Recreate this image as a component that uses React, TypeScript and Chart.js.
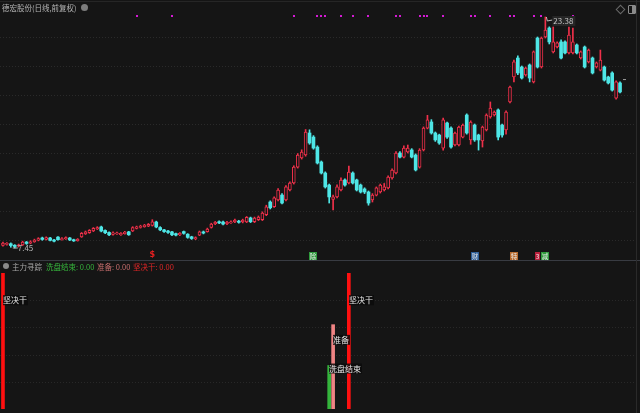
import React, { useEffect, useRef } from 'react';
import { Chart, registerables } from 'chart.js';
Chart.register(...registerables);

const BG = '#151515';
const RED = '#f0304a';
const CYAN = '#4ee6e6';
const FONT = '"Noto Sans CJK SC", "Noto Sans", sans-serif';

// ---- Data (daily candles, 前复权) ----
const openP = [7.62,7.70,7.74,7.64,7.58,7.66,7.86,7.78,7.88,7.98,8.14,8.04,8.14,8.00,8.20,8.02,8.08,8.14,8.02,7.96,
8.22,8.42,8.50,8.62,8.76,8.90,8.66,8.52,8.38,8.42,8.36,8.44,8.56,8.62,8.80,8.86,8.92,8.96,9.00,9.24,
8.86,8.70,8.62,8.56,8.44,8.36,8.58,8.40,8.22,8.08,8.34,8.56,8.58,8.86,9.12,9.26,9.24,9.12,9.18,9.24,
9.30,9.24,9.24,9.52,9.26,9.40,9.40,9.74,10.62,10.30,10.76,11.10,10.76,11.45,11.93,13.03,13.66,13.86,15.38,15.10,
14.41,13.38,12.62,11.79,10.80,10.97,11.45,12.14,11.93,12.62,12.14,11.79,11.52,11.31,10.76,11.10,11.31,11.45,11.59,12.28,
12.62,14.00,13.72,14.07,14.21,13.86,13.03,14.21,15.72,16.14,15.38,15.24,14.34,16.07,15.72,14.55,14.55,15.10,16.62,14.90,
15.93,15.24,14.83,15.59,16.48,16.62,16.97,15.93,15.59,17.52,19.24,20.55,19.93,19.38,20.07,18.90,21.93,19.93,22.00,22.62,
20.97,21.31,21.66,21.66,20.90,20.90,21.45,20.55,21.31,20.28,20.55,19.93,19.72,19.93,19.24,19.52,17.79,18.83];
const closeP = [7.78,7.76,7.62,7.55,7.66,7.86,7.76,7.88,8.00,8.10,8.04,8.16,7.98,7.92,8.02,8.10,8.16,8.00,7.94,8.04,
8.46,8.56,8.66,8.80,8.86,8.62,8.50,8.36,8.50,8.48,8.46,8.54,8.36,8.86,8.90,8.96,9.02,9.08,9.26,8.90,
8.70,8.58,8.52,8.36,8.34,8.46,8.46,8.18,8.10,8.16,8.56,8.48,8.76,9.10,9.22,9.18,9.10,9.22,9.26,9.38,
9.22,9.38,9.56,9.26,9.52,9.58,9.86,10.28,10.22,10.90,11.45,10.55,11.66,11.93,13.03,13.86,14.07,15.45,14.69,14.34,
13.31,12.62,11.66,10.97,10.97,11.66,12.14,11.79,12.69,11.93,11.45,11.31,11.31,10.55,11.10,11.59,11.79,11.66,12.34,12.83,
14.00,13.72,14.34,14.34,13.72,12.83,14.21,15.72,16.28,15.38,14.90,14.69,16.28,15.10,14.41,15.38,15.79,15.93,15.38,16.14,
14.90,14.90,15.79,16.62,17.10,16.83,15.10,15.24,16.83,18.55,20.28,19.52,19.17,19.86,19.17,20.97,19.93,21.93,22.48,21.66,
21.66,21.59,20.55,20.90,22.14,21.66,20.90,20.97,19.93,21.10,19.52,20.21,20.41,19.03,18.83,18.34,18.90,18.21];
const highP = [7.85,7.82,7.80,7.68,7.72,7.92,7.90,7.95,8.06,8.16,8.20,8.22,8.18,8.04,8.24,8.16,8.22,8.18,8.06,8.10,
8.52,8.62,8.72,8.86,8.92,8.96,8.70,8.56,8.56,8.54,8.52,8.60,8.60,8.92,8.96,9.02,9.08,9.14,9.40,9.30,
8.92,8.74,8.66,8.60,8.48,8.52,8.62,8.44,8.26,8.22,8.62,8.62,8.82,9.16,9.28,9.32,9.30,9.28,9.32,9.44,
9.36,9.44,9.62,9.58,9.58,9.66,9.94,10.40,10.70,10.98,11.55,11.20,11.76,12.02,13.12,13.96,14.22,15.62,15.60,15.20,
14.50,13.45,12.70,11.86,11.10,11.80,12.28,12.22,13.10,12.70,12.20,11.86,11.60,11.38,11.20,11.66,11.86,11.90,12.42,12.90,
14.10,14.10,14.50,14.55,14.30,13.94,14.30,15.80,16.60,16.30,15.45,15.30,16.40,16.14,15.80,15.45,15.86,16.00,16.70,16.22,
16.00,15.30,15.86,16.70,17.52,16.90,17.04,16.00,16.90,18.62,20.40,20.70,20.00,19.93,20.14,21.04,22.00,22.00,23.38,22.70,
22.69,21.66,21.80,21.73,22.69,22.62,21.52,21.04,21.38,21.17,20.62,20.28,21.10,20.00,19.30,19.60,18.97,18.90];
const lowP = [7.58,7.65,7.50,7.45,7.52,7.62,7.70,7.74,7.84,7.94,7.98,8.00,7.94,7.86,7.98,7.98,8.04,7.96,7.90,7.92,
8.18,8.38,8.46,8.58,8.72,8.56,8.44,8.30,8.34,8.38,8.32,8.40,8.32,8.58,8.76,8.82,8.88,8.92,8.96,8.84,
8.64,8.52,8.46,8.30,8.28,8.30,8.40,8.12,8.04,8.02,8.30,8.42,8.54,8.82,9.06,9.12,9.04,9.06,9.14,9.20,
9.16,9.18,9.20,9.20,9.20,9.34,9.34,9.68,10.14,10.24,10.70,10.48,10.70,11.38,11.86,12.96,13.58,13.78,14.60,14.26,
13.24,12.55,11.58,10.55,10.07,10.90,11.38,11.72,11.86,11.86,11.38,11.24,11.20,10.40,10.62,11.04,11.24,11.38,11.52,12.20,
12.55,13.66,13.66,14.00,13.66,12.76,12.96,14.14,15.66,15.30,14.80,14.60,14.20,15.00,14.34,14.48,14.48,15.04,15.30,14.60,
14.80,14.20,14.41,15.52,16.40,16.55,14.90,15.10,15.30,17.45,18.90,19.40,19.10,19.30,18.90,18.83,19.86,19.86,21.93,21.52,
20.90,21.24,20.48,20.83,20.83,20.83,20.83,20.48,19.86,20.21,19.45,19.86,19.66,18.96,18.76,18.27,17.72,18.14];
const categories = openP.map((_, i) => `D${i + 1}`);
const gridPrices = [8, 10, 12, 14, 16, 18, 20, 22];
const yMin = 6.759;
const yMax = 23.724;

// top signal dots (day indices)
const dotIdx = [34, 43, 74, 80, 81, 82, 86, 89, 93, 100, 101, 106, 107, 108, 112, 119, 120, 124, 129, 130, 135, 137, 145];
// info-mine markers
const markerIdx = [79, 120, 130, 136, 138];
const markerText = ['除', '财', '特', '3', '减'];
const markerColor = ['#2f9a3c', '#2c5d96', '#b86a2c', '#b8203c', '#2f9a3c'];
const dollarIdx = [38];

// indicator 主力寻踪
const washEndIdx = [83];
const washEndVal = [32];
const prepareIdx = [84];
const prepareVal = [62];
const goIdx = [0, 88];
const goVal = [100, 100];
const indGrid = [20, 40, 60, 80];

const N = openP.length;
const spread = (idx: number[], vals: number[]) => {
  const a: (number | null)[] = new Array(N).fill(null);
  idx.forEach((k, j) => { a[k] = vals[j]; });
  return a;
};

const mainDecor = {
  id: 'mainDecor',
  beforeDatasetsDraw(chart: any) {
    const { ctx, scales: { y } } = chart;
    ctx.save();
    ctx.strokeStyle = '#2a2a2a';
    ctx.lineWidth = 1;
    ctx.setLineDash([1, 2]);
    gridPrices.forEach((p) => {
      const yy = Math.round(y.getPixelForValue(p)) + 0.5;
      ctx.beginPath(); ctx.moveTo(0, yy); ctx.lineTo(636, yy); ctx.stroke();
    });
    ctx.restore();
  },
  afterDatasetsDraw(chart: any) {
    const { ctx, chartArea, scales: { x, y } } = chart;
    ctx.save();
    // magenta dots
    ctx.fillStyle = '#d41ad4';
    dotIdx.forEach((i) => {
      const xx = Math.round(x.getPixelForValue(i));
      ctx.fillRect(xx - 1, chartArea.top + 3, 2, 2);
    });
    // high label
    let hi = 0, lo = 0;
    highP.forEach((v, i) => { if (v > highP[hi]) hi = i; });
    lowP.forEach((v, i) => { if (v < lowP[lo]) lo = i; });
    ctx.font = `8px ${FONT}`;
    ctx.textBaseline = 'middle';
    const hx = x.getPixelForValue(hi), hy = y.getPixelForValue(highP[hi]);
    ctx.strokeStyle = '#bdbdbd'; ctx.lineWidth = 1;
    ctx.beginPath(); ctx.moveTo(hx + 1, hy); ctx.lineTo(hx + 2, hy + 4); ctx.lineTo(hx + 7, hy + 3); ctx.stroke();
    const ht = highP[hi].toFixed(2);
    const hw = ctx.measureText(ht).width;
    ctx.fillStyle = '#262626';
    ctx.fillRect(hx + 7, hy - 1, hw + 3, 10);
    ctx.fillStyle = '#c4c4c4';
    ctx.fillText(ht, hx + 8, hy + 4);
    // low label
    const lx = x.getPixelForValue(lo), ly = y.getPixelForValue(lowP[lo]);
    ctx.beginPath(); ctx.moveTo(lx - 2, ly); ctx.lineTo(lx + 3, ly); ctx.stroke();
    ctx.fillStyle = '#b8b8b8';
    ctx.fillText(lowP[lo].toFixed(2), lx + 3, ly);
    // markers
    ctx.textAlign = 'center';
    markerIdx.forEach((i, j) => {
      const mx = x.getPixelForValue(i);
      const w = /\d/.test(markerText[j]) ? 5 : 8;
      const bx = Math.round(mx - w / 2), by = chartArea.bottom - 6;
      ctx.fillStyle = markerColor[j];
      ctx.fillRect(bx, by, w, 8);
      ctx.fillStyle = '#eaeaea';
      ctx.font = `6.5px ${FONT}`;
      ctx.fillText(markerText[j], bx + w / 2, by + 4.5);
    });
    // $ sign
    ctx.fillStyle = '#e82020';
    ctx.font = `bold 8px "DejaVu Sans", sans-serif`;
    dollarIdx.forEach((i) => {
      ctx.fillText('$', x.getPixelForValue(i), chartArea.bottom - 3);
    });
    // last price tick
    ctx.fillStyle = '#9a9a9a';
    ctx.fillRect(chartArea.right + 1, y.getPixelForValue(19.1), 3, 1);
    ctx.restore();
  },
};

const indDecor = {
  id: 'indDecor',
  beforeDatasetsDraw(chart: any) {
    const { ctx, scales: { y } } = chart;
    ctx.save();
    ctx.strokeStyle = '#282828';
    ctx.lineWidth = 1;
    ctx.setLineDash([1, 2]);
    indGrid.forEach((v) => {
      const yy = Math.round(y.getPixelForValue(v)) + 0.5;
      ctx.beginPath(); ctx.moveTo(0, yy); ctx.lineTo(636, yy); ctx.stroke();
    });
    ctx.restore();
  },
  afterDatasetsDraw(chart: any) {
    const { ctx, scales: { x, y } } = chart;
    ctx.save();
    ctx.font = `8px ${FONT}`;
    ctx.textBaseline = 'middle';
    const put = (txt: string, i: number, v: number) => {
      const tx = Math.round(x.getPixelForValue(i));
      const ty = y.getPixelForValue(v);
      const w = ctx.measureText(txt).width;
      ctx.fillStyle = 'rgba(10,10,10,0.85)';
      ctx.fillRect(tx, ty - 5, w + 1, 10);
      ctx.fillStyle = '#e6e6e6';
      ctx.fillText(txt, tx, ty);
    };
    goIdx.forEach((i, j) => put('坚决干', i, goVal[j] * 0.8));
    prepareIdx.forEach((i, j) => put('准备', i, prepareVal[j] * 0.82));
    washEndIdx.forEach((i, j) => put('洗盘结束', i, washEndVal[j] * 0.93));
    ctx.restore();
  },
};

export default function App() {
  const mainRef = useRef<HTMLCanvasElement>(null);
  const indRef = useRef<HTMLCanvasElement>(null);

  useEffect(() => {
    const up = openP.map((o, i) => closeP[i] >= o);
    const main = new Chart(mainRef.current as HTMLCanvasElement, {
      type: 'bar',
      data: {
        labels: categories,
        datasets: [
          {
            label: 'wick',
            data: lowP.map((l, i) => [l, highP[i]]) as any,
            backgroundColor: up.map((u) => (u ? RED : CYAN)),
            barThickness: 1,
            grouped: false,
            order: 2,
          } as any,
          {
            label: 'body',
            data: openP.map((o, i) => [Math.min(o, closeP[i]), Math.max(o, closeP[i])]) as any,
            backgroundColor: up.map((u) => (u ? BG : CYAN)),
            borderColor: up.map((u) => (u ? RED : CYAN)),
            borderWidth: up.map((u) => (u ? 1 : 0)),
            borderSkipped: false,
            barThickness: 3,
            minBarLength: 1,
            grouped: false,
            order: 1,
          } as any,
        ],
      },
      options: {
        responsive: false,
        animation: false,
        layout: { padding: { left: 1, right: 18, top: 12, bottom: 2 } },
        plugins: { legend: { display: false }, tooltip: { enabled: false } },
        scales: {
          x: { type: 'category', display: false, offset: true },
          y: { type: 'linear', display: false, min: yMin, max: yMax },
        },
      },
      plugins: [mainDecor],
    });

    const ind = new Chart(indRef.current as HTMLCanvasElement, {
      type: 'bar',
      data: {
        labels: categories,
        datasets: [
          { label: '洗盘结束', data: spread(washEndIdx, washEndVal), backgroundColor: '#34b43c', barThickness: 3, grouped: false } as any,
          { label: '准备', data: spread(prepareIdx, prepareVal), backgroundColor: '#f08484', barThickness: 3, grouped: false } as any,
          { label: '坚决干', data: spread(goIdx, goVal), backgroundColor: '#ff1010', barThickness: 3, grouped: false } as any,
        ],
      },
      options: {
        responsive: false,
        animation: false,
        layout: { padding: { left: 1, right: 18, top: 11, bottom: 4 } },
        plugins: { legend: { display: false }, tooltip: { enabled: false } },
        scales: {
          x: { type: 'category', display: false, offset: true },
          y: { type: 'linear', display: false, min: 0, max: 100 },
        },
      },
      plugins: [indDecor],
    });

    return () => { main.destroy(); ind.destroy(); };
  }, []);

  const txt = (left: number, top: number, color: string, s: string) => (
    <span style={{ position: 'absolute', left, top, color, font: `7.5px ${FONT}`, lineHeight: '9px', whiteSpace: 'nowrap' }}>{s}</span>
  );

  return (
    <div style={{ position: 'fixed', left: 0, top: 0, width: 640, height: 413, background: BG, overflow: 'hidden' }}>
      <div style={{ position: 'absolute', left: 0, top: 1, width: 640, height: 1, background: '#262626' }} />
      <canvas ref={mainRef} width={640} height={260} style={{ position: 'absolute', left: 0, top: 0, width: 640, height: 260 }} />
      <div style={{ position: 'absolute', left: 0, top: 260, width: 640, height: 1, background: '#383b42' }} />
      <canvas ref={indRef} width={640} height={151} style={{ position: 'absolute', left: 0, top: 262, width: 640, height: 151 }} />
      <div style={{ position: 'absolute', left: 636, top: 0, width: 1, height: 413, background: '#2a2a2a' }} />
      {txt(2, 3, '#b4b4b4', '德宏股份(日线,前复权)')}
      <span style={{ position: 'absolute', left: 81, top: 4, width: 7, height: 7, borderRadius: '50%', background: '#7c7c7c' }} />
      <span style={{ position: 'absolute', left: 617, top: 6, width: 5, height: 5, border: '1px solid #6a6a6a', transform: 'rotate(45deg)' }} />
      <span style={{ position: 'absolute', left: 628, top: 5, width: 6, height: 7, border: '1px solid #8a8a8a', borderRadius: 1, background: 'linear-gradient(90deg, #151515 50%, #8a8a8a 50%)' }} />
      <span style={{ position: 'absolute', left: 3, top: 263, width: 6, height: 6, borderRadius: '50%', background: '#8a8a8a' }} />
      {txt(12, 262, '#a8a8a8', '主力寻踪')}
      {txt(46, 262, '#36b43c', '洗盘结束: 0.00')}
      {txt(97, 262, '#c86e6e', '准备: 0.00')}
      {txt(133, 262, '#e02626', '坚决干: 0.00')}
    </div>
  );
}
